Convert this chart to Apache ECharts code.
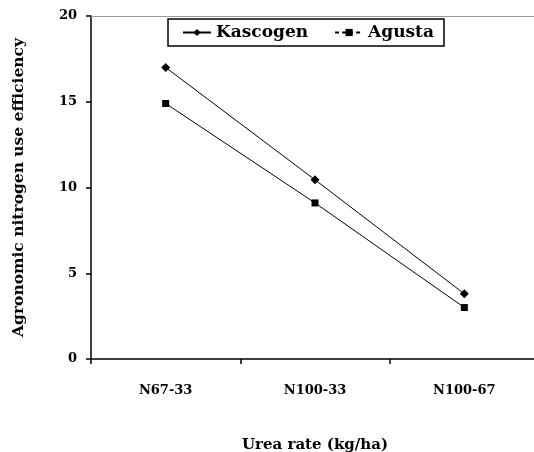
<!DOCTYPE html>
<html><head><meta charset="utf-8">
<script src="https://cdn.jsdelivr.net/npm/echarts@6/dist/echarts.min.js"></script>
<style>html,body{margin:0;padding:0;background:#fff}#c{width:534px;height:452px}</style>
</head><body><div id="c"></div>
<script>
const categories = ['N67-33', 'N100-33', 'N100-67'];
const kascogen = [17.0, 10.45, 3.8];
const agusta = [14.9, 9.1, 3.0];
const yTicks = {min: 0, max: 20, interval: 5};
const F = 'DejaVu Serif';
const chart = echarts.init(document.getElementById('c'), null, {renderer: 'canvas'});
chart.setOption({
  animation: false,
  backgroundColor: '#fff',
  grid: {left: 91, top: 16, right: -5, bottom: 93, show: false, outerBoundsMode: 'none', containLabel: false},
  legend: {
    left: 168, top: 19, width: 275, padding: [5, 10, 5, 14], itemGap: 26,
    borderColor: '#000', borderWidth: 1.5, backgroundColor: '#fff',
    itemWidth: 28, itemHeight: 9,
    textStyle: {fontFamily: F, fontWeight: 'bold', fontSize: 17, color: '#000'},
    data: [
      {name: 'Kascogen'},
      {name: 'Agusta', lineStyle: {type: [4, 3]}}
    ]
  },
  xAxis: [{
    type: 'category', data: categories, boundaryGap: true,
    name: 'Urea rate (kg/ha)', nameLocation: 'middle', nameGap: 79,
    nameTextStyle: {fontFamily: F, fontWeight: 'bold', fontSize: 15, color: '#000'},
    axisLine: {lineStyle: {color: '#000', width: 1.5}},
    axisTick: {show: true, length: 5, inside: false, lineStyle: {color: '#000', width: 1.5}},
    axisLabel: {fontFamily: F, fontWeight: 'bold', fontSize: 13, color: '#000', margin: 25},
    splitLine: {show: false}
  }, {
    type: 'category', data: categories, position: 'top',
    axisLine: {show: true, lineStyle: {color: '#999', width: 1}},
    axisTick: {show: false}, axisLabel: {show: false}, splitLine: {show: false}
  }],
  yAxis: {
    type: 'value', min: yTicks.min, max: yTicks.max, interval: yTicks.interval,
    name: 'Agronomic nitrogen use efficiency', nameLocation: 'middle', nameGap: 64,
    nameTextStyle: {fontFamily: F, fontWeight: 'bold', fontSize: 15.5, color: '#000'},
    axisLine: {show: true, lineStyle: {color: '#000', width: 1.5}},
    axisTick: {show: true, length: 5, lineStyle: {color: '#000', width: 1.5}},
    axisLabel: {fontFamily: F, fontWeight: 'bold', fontSize: 13, color: '#000', margin: 14},
    splitLine: {show: false}
  },
  series: [
    {name: 'Kascogen', type: 'line', data: kascogen, symbol: 'diamond', symbolSize: 9,
     lineStyle: {color: '#000', width: 1}, itemStyle: {color: '#000'}},
    {name: 'Agusta', type: 'line', data: agusta, symbol: 'rect', symbolSize: 7,
     lineStyle: {color: '#000', width: 1}, itemStyle: {color: '#000'}}
  ]
});
</script></body></html>
